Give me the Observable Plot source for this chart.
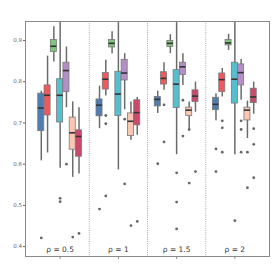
<!DOCTYPE html>
<html>
<head>
<meta charset="utf-8">
<script src="https://cdn.jsdelivr.net/npm/d3@7"></script>
<script src="https://cdn.jsdelivr.net/npm/@observablehq/plot@0.6"></script>
<style>
  html, body { margin: 0; padding: 0; background: #fff; }
  #chart { width: 273px; height: 273px; }
</style>
</head>
<body>
<div id="chart"></div>
<script>
// ---- data ----
const panels = ["ρ = 0.5", "ρ = 1", "ρ = 1.5", "ρ = 2"];
const seriesColors = ["#4f7cb1", "#f2575b", "#7dc67b", "#55bfcf", "#b48fc7", "#fbc6b2", "#c94a6b"];
const yTicks = [0.4, 0.5, 0.6, 0.7, 0.8, 0.9];

// rows = panels, columns = series (blue, red, green, cyan, purple, peach, pink)
const whiskerLow = [
  [0.608, 0.627, 0.848, 0.590, 0.737, 0.568, 0.576],
  [0.686, 0.765, 0.868, 0.586, 0.732, 0.658, 0.670],
  [0.723, 0.779, 0.868, 0.623, 0.791, 0.686, 0.726],
  [0.705, 0.763, 0.876, 0.623, 0.755, 0.662, 0.721]
];
const q1 = [
  [0.680, 0.718, 0.872, 0.701, 0.775, 0.635, 0.618],
  [0.716, 0.781, 0.883, 0.717, 0.803, 0.668, 0.694],
  [0.740, 0.793, 0.884, 0.736, 0.816, 0.717, 0.751],
  [0.731, 0.775, 0.888, 0.747, 0.791, 0.706, 0.748]
];
const median = [
  [0.736, 0.767, 0.886, 0.767, 0.827, 0.676, 0.667],
  [0.743, 0.806, 0.893, 0.770, 0.821, 0.704, 0.725],
  [0.757, 0.808, 0.893, 0.794, 0.836, 0.731, 0.765],
  [0.745, 0.805, 0.894, 0.806, 0.822, 0.731, 0.763]
];
const q3 = [
  [0.771, 0.791, 0.901, 0.806, 0.846, 0.713, 0.682],
  [0.757, 0.821, 0.901, 0.824, 0.853, 0.723, 0.755],
  [0.763, 0.823, 0.899, 0.828, 0.846, 0.737, 0.779],
  [0.761, 0.820, 0.901, 0.846, 0.842, 0.737, 0.783]
];
const whiskerHigh = [
  [0.777, 0.862, 0.933, 1.000, 0.884, 0.751, 0.737],
  [0.789, 0.852, 0.921, 1.000, 0.868, 0.751, 0.762],
  [0.777, 0.846, 0.914, 1.000, 0.868, 0.751, 0.799],
  [0.771, 0.832, 0.915, 1.000, 0.854, 0.753, 0.799]
];

const outlierPanel  = [0,0,0,0,0,0, 1,1,1,1,1,1,1,1, 2,2,2,2,2,2,2,2,2,2,2, 3,3,3,3,3,3,3,3,3,3,3,3,3,3];
const outlierSeries = [0,3,3,4,5,6, 0,1,1,1,4,4,5,6, 0,1,1,3,3,3,4,4,5,5,6, 0,0,1,1,1,3,4,4,4,5,5,6,6,6];
const outlierValue  = [0.421,0.517,0.509,0.600,0.423,0.432,
                       0.491,0.718,0.698,0.523,0.709,0.552,0.451,0.461,
                       0.601,0.744,0.654,0.579,0.508,0.443,0.755,0.668,0.684,0.554,0.582,
                       0.637,0.582,0.705,0.688,0.629,0.463,0.705,0.684,0.629,0.629,0.543,0.686,0.648,0.567];

// ---- build tables ----
const step = 0.108, half = 0.052;
const pos = (p, s) => p + (s - 3) * step;
const boxes = [];
panels.forEach((name, p) => {
  seriesColors.forEach((c, s) => {
    boxes.push({p, s, x: pos(p, s), lo: whiskerLow[p][s], q1: q1[p][s], med: median[p][s], q3: q3[p][s], hi: whiskerHigh[p][s], color: c});
  });
});
const outliers = outlierValue.map((v, i) => ({x: pos(outlierPanel[i], outlierSeries[i]), y: v}));
const labels = panels.map((t, p) => ({x: p, t}));

const chart = Plot.plot({
  width: 273,
  height: 273,
  marginLeft: 25,
  marginRight: 4,
  marginTop: 21,
  marginBottom: 17,
  style: {background: "#fff", fontFamily: "DejaVu Sans, sans-serif"},
  x: {domain: [-0.595, 3.595], label: null},
  y: {domain: [0.376, 0.946], label: null},
  marks: [
    Plot.ruleX([0.5, 1.5, 2.5], {stroke: "#aaa", strokeWidth: 1, strokeDasharray: "1,1.2"}),
    Plot.ruleX(boxes, {x: "x", y1: "lo", y2: "hi", stroke: "#6b6b6b", strokeWidth: 1.5, clip: true}),
    Plot.rect(boxes, {x1: d => d.x - half, x2: d => d.x + half, y1: "q1", y2: "q3", fill: "color", stroke: "#7a7a7a", strokeWidth: 0.8, clip: true}),
    Plot.ruleY(boxes, {y: "med", x1: d => d.x - half, x2: d => d.x + half, stroke: "#333", strokeWidth: 1.6}),
    Plot.dot(outliers, {x: "x", y: "y", r: 1.4, fill: "#666", stroke: "none"}),
    Plot.text(labels, {x: "x", text: "t", frameAnchor: "bottom", lineAnchor: "bottom", dy: -4.5, fontSize: 7.5, fill: "#333"}),
    Plot.axisY({ticks: yTicks, tickSize: 2, tickFormat: d3.format(".1f"), fontSize: 5.5, color: "#666", tickPadding: 1.5, label: null}),
    Plot.axisX({ticks: [0, 1, 2, 3], tickSize: 3, tickFormat: () => "", color: "#888", label: null}),
    Plot.frame({stroke: "#8a8a8a", strokeWidth: 1})
  ]
});
document.getElementById("chart").appendChild(chart);
</script>
</body>
</html>
